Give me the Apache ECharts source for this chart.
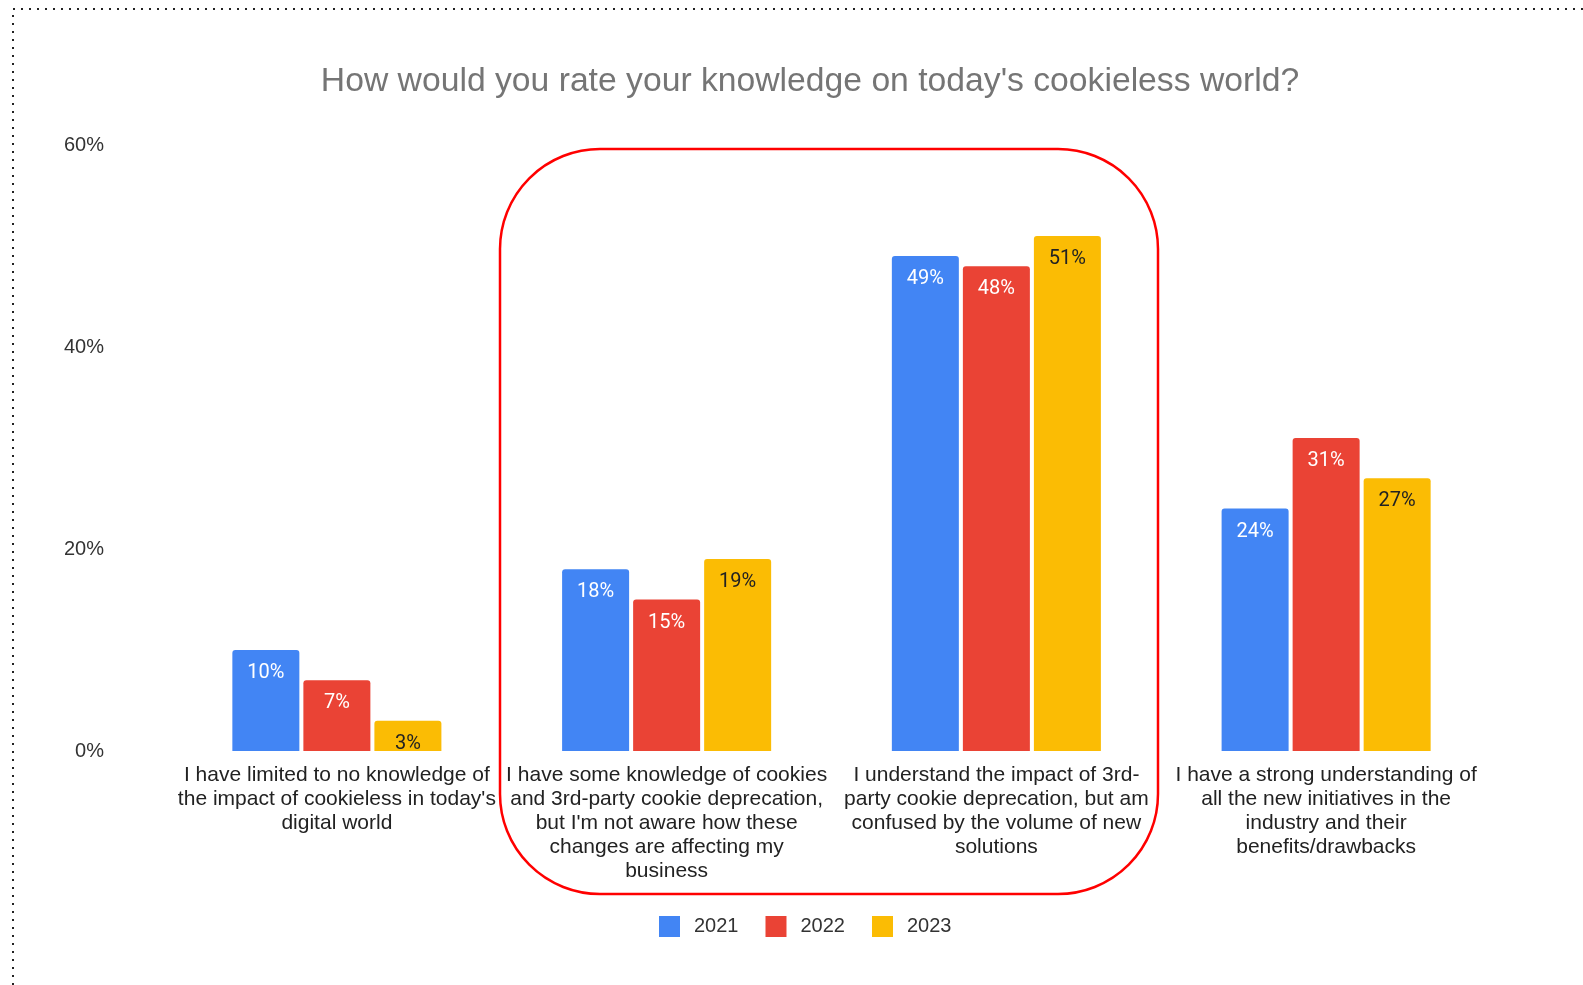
<!DOCTYPE html>
<html>
<head>
<meta charset="utf-8">
<style>
  html, body { margin: 0; padding: 0; background: #fff; }
  #chart { width: 1583px; height: 985px; }
</style>
<script src="https://cdn.jsdelivr.net/npm/echarts@6/dist/echarts.min.js"></script>
</head>
<body>
<div id="chart"></div>
<script>
const categories = [
  "I have limited to no knowledge of the impact of cookieless in today's digital world",
  "I have some knowledge of cookies and 3rd-party cookie deprecation, but I'm not aware how these changes are affecting my business",
  "I understand the impact of 3rd-party cookie deprecation, but am confused by the volume of new solutions",
  "I have a strong understanding of all the new initiatives in the industry and their benefits/drawbacks"
];
const categoryLines = [
  "I have limited to no knowledge of\nthe impact of cookieless in today's\ndigital world",
  "I have some knowledge of cookies\nand 3rd-party cookie deprecation,\nbut I'm not aware how these\nchanges are affecting my\nbusiness",
  "I understand the impact of 3rd-\nparty cookie deprecation, but am\nconfused by the volume of new\nsolutions",
  "I have a strong understanding of\nall the new initiatives in the\nindustry and their\nbenefits/drawbacks"
];
const years = ["2021", "2022", "2023"];
const values2021 = [10, 18, 49, 24];
const values2022 = [7, 15, 48, 31];
const values2023 = [3, 19, 51, 27];
const yTicks = [0, 20, 40, 60];

const colors = ["#4285f4", "#ea4335", "#fbbc04"];
const labelColors = ["#ffffff", "#ffffff", "#222222"];
const seriesData = [values2021, values2022, values2023];

const chart = echarts.init(document.getElementById('chart'));

const series = years.map((y, i) => ({
  name: y,
  type: 'bar',
  data: seriesData[i],
  barWidth: 67,
  barGap: '6%',
  itemStyle: { color: colors[i], borderRadius: [3, 3, 0, 0] },
  label: {
    show: true,
    position: 'insideTop',
    distance: 13,
    formatter: p => p.value + '%',
    color: labelColors[i],
    fontFamily: 'Roboto',
    fontSize: 20
  }
}));

chart.setOption({
  backgroundColor: '#ffffff',
  animation: false,
  title: {
    text: "How would you rate your knowledge on today's cookieless world?",
    left: 805,
    textAlign: 'center',
    top: 60,
    textStyle: {
      fontFamily: 'Liberation Sans, Arial, sans-serif',
      fontSize: 33.7,
      fontWeight: 'normal',
      color: '#757575'
    }
  },
  legend: {
    data: years,
    left: 654,
    top: 911,
    icon: 'rect',
    itemWidth: 21,
    itemHeight: 21,
    itemGap: 27,
    textStyle: {
      fontFamily: 'Liberation Sans, Arial, sans-serif',
      fontSize: 20,
      color: '#333',
      padding: [0, 0, 0, 9]
    }
  },
  grid: { left: 172, right: 92, top: 145, bottom: 234 },
  xAxis: {
    type: 'category',
    data: categories,
    axisLine: { show: false },
    axisTick: { show: false },
    axisLabel: {
      interval: 0,
      margin: 12,
      formatter: (v, idx) => categoryLines[idx],
      fontFamily: 'Liberation Sans, Arial, sans-serif',
      fontSize: 21,
      lineHeight: 24,
      color: '#222'
    }
  },
  yAxis: {
    type: 'value',
    min: yTicks[0],
    max: yTicks[yTicks.length - 1],
    interval: 20,
    splitLine: { show: false },
    axisLine: { show: false },
    axisTick: { show: false },
    axisLabel: {
      margin: 68,
      formatter: v => v + '%',
      fontFamily: 'Liberation Sans, Arial, sans-serif',
      fontSize: 20,
      color: '#333'
    }
  },
  series: series,
  graphic: [
    {
      type: 'rect',
      shape: { x: 500, y: 149, width: 658, height: 745, r: 100 },
      style: { fill: 'none', stroke: '#ff0000', lineWidth: 2.5 },
      z: 10
    },
    {
      type: 'polyline',
      shape: { points: [[13, 985], [13, 9], [1583, 9]] },
      style: { fill: 'none', stroke: '#222', lineWidth: 2, lineDash: [2, 6] },
      z: 10
    }
  ]
});
</script>
</body>
</html>
